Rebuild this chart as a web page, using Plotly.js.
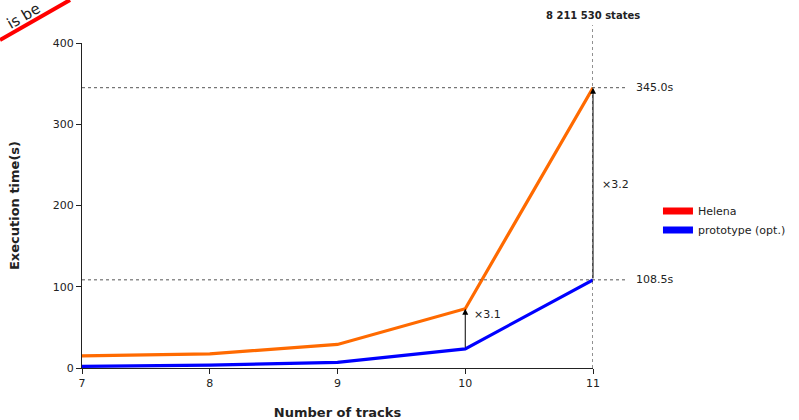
<!DOCTYPE html>
<html><head><meta charset="utf-8">
<script src="https://cdn.plot.ly/plotly-3.0.1.min.js"></script>
<style>body{margin:0;padding:0;background:#fff}#chart{width:799px;height:420px}</style>
</head><body><div id="chart"></div>
<script>
var tracks = [7, 8, 9, 10, 11];
var helena = [15, 17.5, 29, 73, 345.0];
var prototype = [2, 3.5, 7, 23.5, 108.5];
var seriesNames = ['Helena', 'prototype (opt.)'];
var lineColors = ['#ff6a00', '#0000ff'];
var legendColors = ['#ff0000', '#0000ff'];
var statesLabel = '8 211 530 states';
var ratioLabels = ['×3.1', '×3.2'];

var font = 'DejaVu Sans, sans-serif';
var traces = [
  {x: tracks, y: helena, mode: 'lines', line: {color: lineColors[0], width: 3.2}, showlegend: false, hoverinfo: 'skip'},
  {x: tracks, y: prototype, mode: 'lines', line: {color: lineColors[1], width: 3.2}, showlegend: false, hoverinfo: 'skip'},
  {x: [null], y: [null], mode: 'lines', name: seriesNames[0], line: {color: legendColors[0], width: 7}},
  {x: [null], y: [null], mode: 'lines', name: seriesNames[1], line: {color: legendColors[1], width: 7}}
];
var last = tracks.length - 1;
var i10 = 3;
var layout = {
  width: 799, height: 420,
  margin: {l: 82, r: 206, t: 43, b: 52, autoexpand: false},
  paper_bgcolor: '#fff', plot_bgcolor: '#fff',
  font: {family: font, size: 11, color: '#222'},
  xaxis: {range: [7, 11], tickvals: tracks, ticks: 'outside', ticklen: 5, tickcolor: '#222',
    showline: true, linecolor: '#222', linewidth: 1, showgrid: false, zeroline: false,
    tickfont: {size: 11}, title: {text: '<b>Number of tracks</b>', font: {size: 13}, standoff: 28}},
  yaxis: {range: [0, 400], tickvals: [0, 100, 200, 300, 400], ticks: 'outside', ticklen: 5, tickcolor: '#222',
    showline: true, linecolor: '#222', linewidth: 1, showgrid: false, zeroline: false,
    tickfont: {size: 11}, title: {text: '<b>Execution time(s)</b>', font: {size: 13}, standoff: 30}},
  showlegend: true,
  legend: {xref: 'container', yref: 'container', x: 0.8235, y: 0.475, xanchor: 'left', yanchor: 'middle',
    font: {size: 11}, tracegroupgap: 0, itemwidth: 30},
  shapes: [
    {type: 'line', xref: 'paper', yref: 'y', x0: 0, x1: 1.068, y0: helena[last], y1: helena[last], line: {color: '#555', width: 1, dash: 'dot'}},
    {type: 'line', xref: 'paper', yref: 'y', x0: 0, x1: 1.068, y0: prototype[last], y1: prototype[last], line: {color: '#555', width: 1, dash: 'dot'}},
    {type: 'line', xref: 'x', yref: 'paper', x0: tracks[last], x1: tracks[last], y0: 0, y1: 1.055, line: {color: '#222', width: 1, dash: 'dot'}},
    {type: 'line', xref: 'paper', yref: 'paper', x0: -0.1605, y0: 1.0092, x1: -0.0235, y1: 1.1323, line: {color: '#ff0000', width: 4}}
  ],
  annotations: [
    {x: tracks[i10], y: helena[i10], ax: tracks[i10], ay: prototype[i10], xref: 'x', yref: 'y', axref: 'x', ayref: 'y',
     showarrow: true, arrowhead: 2, arrowsize: 1.2, arrowwidth: 1, arrowcolor: '#000', standoff: 0, startstandoff: 0, text: ''},
    {x: tracks[last], y: helena[last], ax: tracks[last], ay: prototype[last], xref: 'x', yref: 'y', axref: 'x', ayref: 'y',
     showarrow: true, arrowhead: 2, arrowsize: 1.2, arrowwidth: 1, arrowcolor: '#000', standoff: 0, startstandoff: 0, text: ''},
    {x: tracks[i10], y: (helena[i10] + prototype[i10]) / 2, xref: 'x', yref: 'y', text: ratioLabels[0], showarrow: false, xanchor: 'left', xshift: 7, yshift: 14, font: {size: 11}},
    {x: tracks[last], y: (helena[last] + prototype[last]) / 2, xref: 'x', yref: 'y', text: ratioLabels[1], showarrow: false, xanchor: 'left', xshift: 7, yshift: -1, font: {size: 11}},
    {x: 1.068, y: helena[last], xref: 'paper', yref: 'y', text: helena[last].toFixed(1) + 's', showarrow: false, xanchor: 'left', xshift: 6, font: {size: 11}},
    {x: 1.068, y: prototype[last], xref: 'paper', yref: 'y', text: prototype[last].toFixed(1) + 's', showarrow: false, xanchor: 'left', xshift: 6, font: {size: 11}},
    {x: tracks[last], y: 1.055, xref: 'x', yref: 'paper', text: '<b>' + statesLabel + '</b>', showarrow: false, yanchor: 'bottom', yshift: 2, font: {size: 10}},
    {x: -0.1585, y: 1.143, xref: 'paper', yref: 'paper', text: 'is be', showarrow: false, textangle: -30, font: {size: 15, color: '#222'}}
  ]
};
Plotly.newPlot('chart', traces, layout, {displayModeBar: false, staticPlot: true});
</script></body></html>
